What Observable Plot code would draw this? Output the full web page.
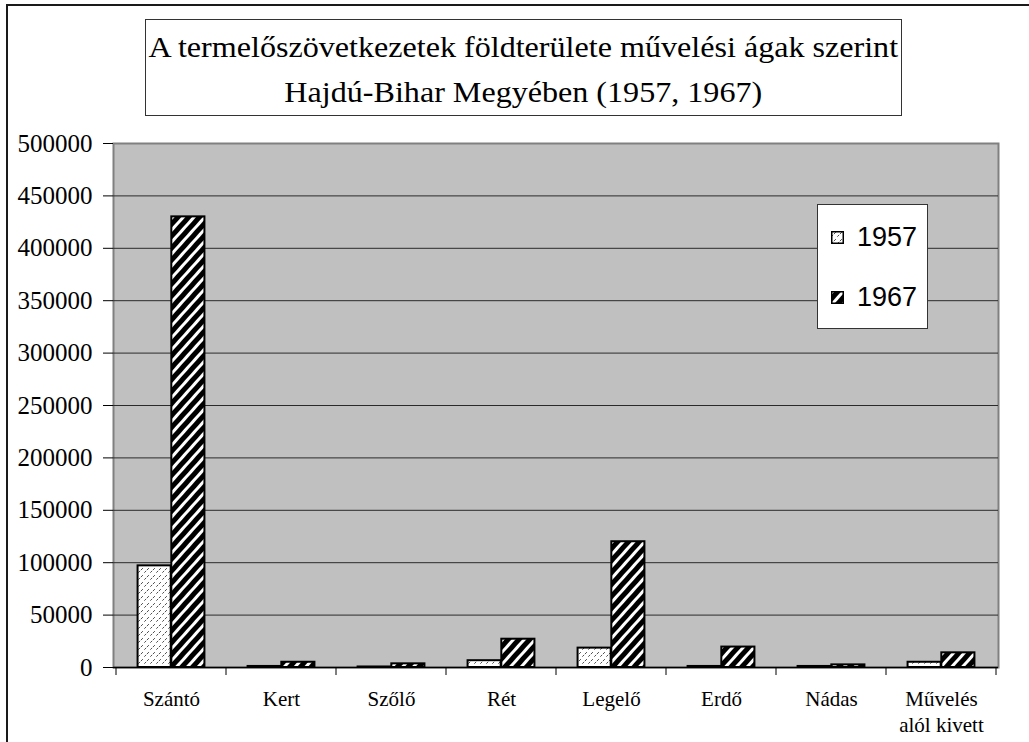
<!DOCTYPE html>
<html>
<head>
<meta charset="utf-8">
<script src="https://cdn.jsdelivr.net/npm/d3@7"></script>
<script src="https://cdn.jsdelivr.net/npm/@observablehq/plot@0.6"></script>
<style>
  html, body { margin: 0; padding: 0; background: #fff; }
  #wrap { position: relative; width: 1029px; height: 742px; overflow: hidden; background: #fff; }
  #outer { position: absolute; left: 6px; top: 4px; width: 1100px; height: 800px; border-left: 2px solid #1a1a1a; border-top: 2px solid #1a1a1a; }
  #title { position: absolute; left: 145px; top: 19px; width: 757px; height: 97px; border: 1px solid #333; box-sizing: border-box;
           font-family: "Liberation Serif", "Times New Roman", serif; font-size: 30px; line-height: 45px; text-align: center; padding-top: 4px; color: #000; background: #fff; }
  #title span { display: inline-block; transform: scaleX(1.07); white-space: nowrap; }
  #legend { position: absolute; left: 817px; top: 204px; width: 111px; height: 125px; border: 1px solid #333; box-sizing: border-box; background: #fff;
            font-family: "Liberation Sans", Arial, sans-serif; font-size: 27px; color: #000; }
  #legend .item { position: absolute; left: 13px; display: flex; align-items: center; }
  #legend .item svg { margin-right: 13px; }
  #chart { position: absolute; left: 0; top: 0; }
</style>
</head>
<body>
<svg width="0" height="0" style="position:absolute">
  <defs>
    <pattern id="p1957" patternUnits="userSpaceOnUse" width="6" height="7">
      <rect width="6" height="7" fill="#fff"></rect>
      <path d="M0.3,5.7 L2.2,3.8 M3,3 L4.9,1.1" stroke="#3a3a3a" stroke-width="0.9" fill="none"></path>
    </pattern>
    <pattern id="p1967" patternUnits="userSpaceOnUse" width="8" height="8" patternTransform="rotate(42)">
      <rect width="8" height="8" fill="#000"></rect>
      <rect x="0" y="0" width="3" height="8" fill="#fff"></rect>
    </pattern>
  </defs>
</svg>
<div id="wrap">
  <div id="outer"></div>
  <div id="chart"></div>
  <div id="title"><span>A termelőszövetkezetek földterülete művelési ágak szerint</span><br><span>Hajdú-Bihar Megyében (1957, 1967)</span></div>
  <div id="legend"></div>
</div>
<script>
// ---- data ----
const categories = ["Szántó", "Kert", "Szőlő", "Rét", "Legelő", "Erdő", "Nádas", "Művelés\nalól kivett"];
const years = ["1957", "1967"];
const values1957 = [97000, 1000, 500, 6500, 18500, 1000, 1000, 5000];
const values1967 = [430000, 5000, 3500, 27000, 120000, 19500, 2500, 14000];
const yTicks = [0, 50000, 100000, 150000, 200000, 250000, 300000, 350000, 400000, 450000, 500000];
const gridValues = [50000, 100000, 150000, 200000, 250000, 300000, 350000, 400000, 450000];

const rows1957 = categories.map((c, i) => ({cat: c, year: years[0], value: values1957[i]}));
const rows1967 = categories.map((c, i) => ({cat: c, year: years[1], value: values1967[i]}));

// ---- layout ----
const W = 1029, H = 742, ML = 113, MR = 31, MT = 143, MB = 75;
const band = (W - ML - MR) / categories.length;
const gap = band * 0.195;          // outer gap in each group
const barW = (band - 2 * gap) / 2;

const plot = Plot.plot({
  width: W, height: H,
  marginLeft: ML, marginRight: MR, marginTop: MT, marginBottom: MB,
  style: {fontFamily: "'Liberation Serif', 'Times New Roman', serif", background: "transparent", color: "#000", overflow: "visible"},
  x: {type: "band", domain: categories, padding: 0, axis: null},
  y: {domain: [0, 500000], axis: null},
  marks: [
    Plot.frame({fill: "#c0c0c0", stroke: "#808080", strokeWidth: 2}),
    Plot.ruleY(gridValues, {stroke: "#2a2a2a", strokeWidth: 1}),
    Plot.barY(rows1957, {x: "cat", y: "value", fill: "url(#p1957)", stroke: "#000", strokeWidth: 2,
      insetLeft: gap, insetRight: gap + barW}),
    Plot.barY(rows1967, {x: "cat", y: "value", fill: "url(#p1967)", stroke: "#000", strokeWidth: 2,
      insetLeft: gap + barW, insetRight: gap}),
    Plot.ruleY([0], {stroke: "#000", strokeWidth: 1.5}),
    Plot.axisY({ticks: yTicks, tickFormat: d => String(d), tickSize: 10, tickPadding: 11, fontSize: 25, label: null, stroke: "#000"}),
    Plot.axisX({tickSize: 0, tickPadding: 20, fontSize: 21, lineHeight: 1.25, label: null, tickFormat: d => d})
  ]
});
document.getElementById("chart").appendChild(plot);

// boundary ticks on the category axis, placed from the plot's own scales
const xs = plot.scale("x"), ys = plot.scale("y");
const y0 = ys.apply(0);
const bounds = categories.map(c => xs.apply(c)).concat([xs.apply(categories[categories.length - 1]) + xs.bandwidth]);
const g = d3.select(plot).append("g").attr("stroke", "#000").attr("stroke-width", 1);
bounds.forEach(b => g.append("line").attr("x1", b).attr("x2", b).attr("y1", y0).attr("y2", y0 + 8));

// legend
const legend = document.getElementById("legend");
[["1957", "p1957", 17], ["1967", "p1967", 77]].forEach(([label, pat, top]) => {
  const item = document.createElement("div");
  item.className = "item";
  item.style.top = top + "px";
  item.innerHTML = `<svg width="13" height="13"><rect x="0.75" y="0.75" width="11.5" height="11.5" fill="url(#${pat})" stroke="#000" stroke-width="1.5"></rect></svg><span>${label}</span>`;
  legend.appendChild(item);
});
</script>
</body>
</html>
